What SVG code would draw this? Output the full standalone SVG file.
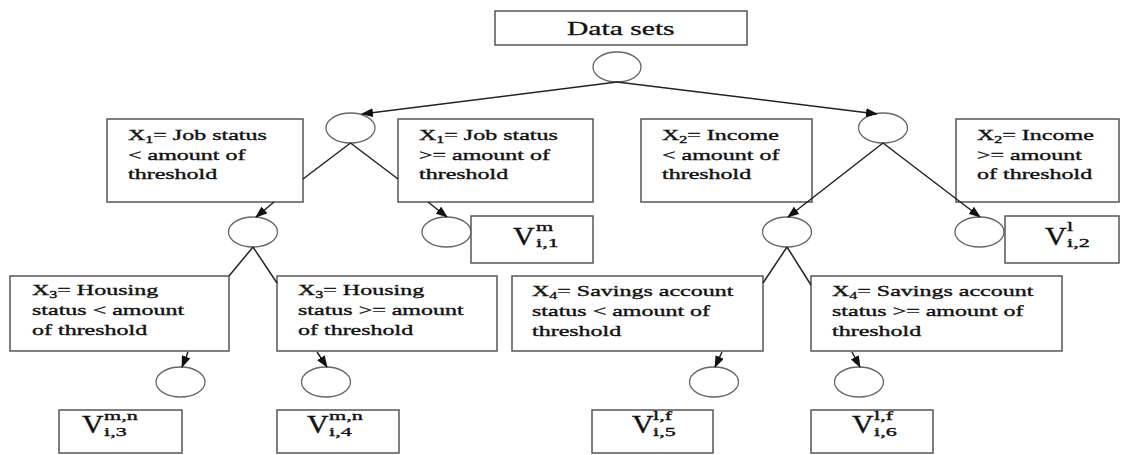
<svg xmlns="http://www.w3.org/2000/svg" width="1121" height="455" viewBox="0 0 1121 455">
<style>
.box{fill:#fff;stroke:#555;stroke-width:1.5}
.circ{fill:#fff;stroke:#666;stroke-width:1.3}
.lbl{font-family:"Liberation Serif","Times New Roman",serif;font-size:15px;fill:#111;stroke:#111;stroke-width:0.35}
.ttl{font-family:"Liberation Serif","Times New Roman",serif;font-size:18.5px;fill:#111;stroke:#111;stroke-width:0.3}
.v{font-family:"Liberation Serif","Times New Roman",serif;font-size:26px;fill:#111;stroke:#111;stroke-width:0.4}
.s{font-family:"Liberation Serif","Times New Roman",serif;font-size:13px;fill:#111;stroke:#111;stroke-width:0.35}
.sb{font-size:10px}
.con{fill:none;stroke:#222;stroke-width:1.5}
</style>
<defs>
<marker id="arr" markerUnits="userSpaceOnUse" markerWidth="12" markerHeight="9" refX="11" refY="4.5" orient="auto">
<path d="M0,0 L12,4.5 L0,9 z" fill="#111"/>
</marker>
</defs>

<g id="root">
<rect class="box" x="495" y="11" width="252" height="34"/>
<text class="ttl" transform="translate(567 34.5) scale(1.6 1)">Data sets</text>
</g>
<g id="c0"><ellipse class="circ" cx="617" cy="67" rx="24" ry="15"/></g>
<g id="c1L"><ellipse class="circ" cx="350.5" cy="128" rx="24.5" ry="15"/></g>
<g id="c1R"><ellipse class="circ" cx="883" cy="128" rx="24.5" ry="15"/></g>
<g id="c2L"><ellipse class="circ" cx="253" cy="232" rx="24.5" ry="15"/></g>
<g id="c2V1"><ellipse class="circ" cx="446.5" cy="232" rx="24.5" ry="15"/></g>
<g id="c2R"><ellipse class="circ" cx="787" cy="232" rx="24.5" ry="15"/></g>
<g id="c2V2"><ellipse class="circ" cx="979.5" cy="232" rx="24.5" ry="15"/></g>
<g id="c3a"><ellipse class="circ" cx="180.5" cy="382" rx="24.5" ry="15"/></g>
<g id="c3b"><ellipse class="circ" cx="326" cy="382" rx="24.5" ry="15"/></g>
<g id="c3c"><ellipse class="circ" cx="714" cy="382" rx="24.5" ry="15"/></g>
<g id="c3d"><ellipse class="circ" cx="859" cy="382" rx="24.5" ry="15"/></g>

<g id="x1lt">
<rect class="box" x="107" y="119" width="196" height="83"/>
<text class="lbl" transform="translate(128 140) scale(1.6 1)"><tspan x="0" y="0">X</tspan><tspan class="sb" dy="3">1</tspan><tspan dy="-3">= Job status</tspan><tspan x="0" y="20">&lt; amount of</tspan><tspan x="0" y="39">threshold</tspan></text>
</g>
<g id="x1ge">
<rect class="box" x="398" y="119" width="195" height="83"/>
<text class="lbl" transform="translate(419 140) scale(1.6 1)"><tspan x="0" y="0">X</tspan><tspan class="sb" dy="3">1</tspan><tspan dy="-3">= Job status</tspan><tspan x="0" y="20">&gt;= amount of</tspan><tspan x="0" y="39">threshold</tspan></text>
</g>
<g id="x2lt">
<rect class="box" x="641" y="119" width="171" height="83"/>
<text class="lbl" transform="translate(662 140) scale(1.6 1)"><tspan x="0" y="0">X</tspan><tspan class="sb" dy="3">2</tspan><tspan dy="-3">= Income</tspan><tspan x="0" y="20">&lt; amount of</tspan><tspan x="0" y="39">threshold</tspan></text>
</g>
<g id="x2ge">
<rect class="box" x="956" y="119" width="163" height="83"/>
<text class="lbl" transform="translate(977 140) scale(1.6 1)"><tspan x="0" y="0">X</tspan><tspan class="sb" dy="3">2</tspan><tspan dy="-3">= Income</tspan><tspan x="0" y="20">&gt;= amount</tspan><tspan x="0" y="39">of threshold</tspan></text>
</g>
<g id="x3lt">
<rect class="box" x="10" y="276" width="219" height="75"/>
<text class="lbl" transform="translate(32 295) scale(1.6 1)"><tspan x="0" y="0">X</tspan><tspan class="sb" dy="3">3</tspan><tspan dy="-3">= Housing</tspan><tspan x="0" y="20">status &lt; amount</tspan><tspan x="0" y="40">of threshold</tspan></text>
</g>
<g id="x3ge">
<rect class="box" x="277" y="276" width="220" height="75"/>
<text class="lbl" transform="translate(298 295) scale(1.6 1)"><tspan x="0" y="0">X</tspan><tspan class="sb" dy="3">3</tspan><tspan dy="-3">= Housing</tspan><tspan x="0" y="20">status &gt;= amount</tspan><tspan x="0" y="40">of threshold</tspan></text>
</g>
<g id="x4lt">
<rect class="box" x="512" y="276" width="251" height="75"/>
<text class="lbl" transform="translate(532 296) scale(1.6 1)"><tspan x="0" y="0">X</tspan><tspan class="sb" dy="3">4</tspan><tspan dy="-3">= Savings account</tspan><tspan x="0" y="20">status &lt; amount of</tspan><tspan x="0" y="40">threshold</tspan></text>
</g>
<g id="x4ge">
<rect class="box" x="811" y="276" width="251" height="75"/>
<text class="lbl" transform="translate(832 296) scale(1.6 1)"><tspan x="0" y="0">X</tspan><tspan class="sb" dy="3">4</tspan><tspan dy="-3">= Savings account</tspan><tspan x="0" y="20">status &gt;= amount of</tspan><tspan x="0" y="40">threshold</tspan></text>
</g>

<g id="v1">
<rect class="box" x="471" y="216" width="122" height="47"/>
<text class="v" transform="translate(513 245) scale(1.15 1)">V</text>
<text class="s" transform="translate(536 231) scale(1.7 1)">m</text>
<text class="s" transform="translate(536 247) scale(1.7 1)">i,1</text>
</g>
<g id="v2">
<rect class="box" x="1005" y="216" width="114" height="47"/>
<text class="v" transform="translate(1045 245) scale(1.15 1)">V</text>
<text class="s" transform="translate(1067 231) scale(1.7 1)">l</text>
<text class="s" transform="translate(1067 247) scale(1.7 1)">i,2</text>
</g>
<g id="v3">
<rect class="box" x="59" y="410" width="123" height="43"/>
<text class="v" transform="translate(82 433) scale(1.15 1)">V</text>
<text class="s" transform="translate(104 420) scale(1.7 1)">m,n</text>
<text class="s" transform="translate(104 436) scale(1.7 1)">i,3</text>
</g>
<g id="v4">
<rect class="box" x="277" y="410" width="122" height="43"/>
<text class="v" transform="translate(307 433) scale(1.15 1)">V</text>
<text class="s" transform="translate(329 420) scale(1.7 1)">m,n</text>
<text class="s" transform="translate(329 436) scale(1.7 1)">i,4</text>
</g>
<g id="v5">
<rect class="box" x="592" y="410" width="121" height="43"/>
<text class="v" transform="translate(632 433) scale(1.15 1)">V</text>
<text class="s" transform="translate(653 420) scale(1.7 1)">l,f</text>
<text class="s" transform="translate(653 436) scale(1.7 1)">i,5</text>
</g>
<g id="v6">
<rect class="box" x="811" y="410" width="122" height="43"/>
<text class="v" transform="translate(852 433) scale(1.15 1)">V</text>
<text class="s" transform="translate(874 420) scale(1.7 1)">l,f</text>
<text class="s" transform="translate(874 436) scale(1.7 1)">i,6</text>
</g>

<g id="connectors">
<line class="con" x1="617" y1="82" x2="362" y2="114" marker-end="url(#arr)"/>
<line class="con" x1="617" y1="82" x2="877" y2="114" marker-end="url(#arr)"/>
<line class="con" x1="350.5" y1="143" x2="303" y2="179"/>
<line class="con" x1="274" y1="202" x2="256" y2="217" marker-end="url(#arr)"/>
<line class="con" x1="350.5" y1="143" x2="398" y2="179"/>
<line class="con" x1="428" y1="202" x2="447" y2="217" marker-end="url(#arr)"/>
<line class="con" x1="883" y1="143" x2="788" y2="217" marker-end="url(#arr)"/>
<line class="con" x1="883" y1="143" x2="980" y2="217" marker-end="url(#arr)"/>
<line class="con" x1="253" y1="247" x2="229" y2="276"/>
<line class="con" x1="253" y1="247" x2="277" y2="283"/>
<line class="con" x1="188" y1="352" x2="182" y2="367" marker-end="url(#arr)"/>
<line class="con" x1="317" y1="352" x2="327" y2="367" marker-end="url(#arr)"/>
<line class="con" x1="787" y1="247" x2="763" y2="283"/>
<line class="con" x1="787" y1="247" x2="811" y2="285"/>
<line class="con" x1="722" y1="352" x2="715" y2="367" marker-end="url(#arr)"/>
<line class="con" x1="852" y1="352" x2="860" y2="367" marker-end="url(#arr)"/>
</g>
</svg>
